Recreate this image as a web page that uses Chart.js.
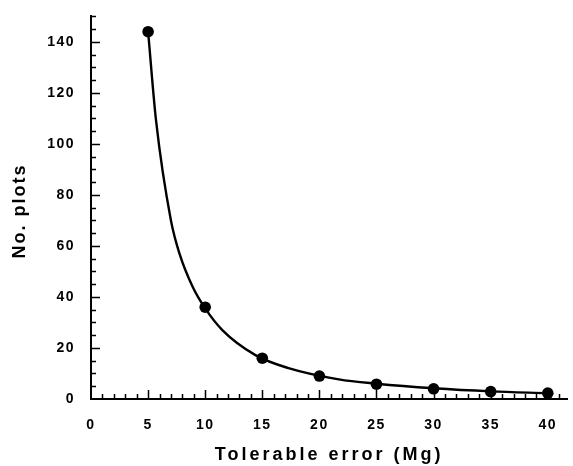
<!DOCTYPE html>
<html lang="en">
<head>
    <meta charset="UTF-8">
    <title>No. plots vs tolerable error</title>
    <script src="https://cdn.jsdelivr.net/npm/chart.js"></script>
    <style>
        html, body { margin: 0; padding: 0; background: #fff; }
        #wrap { width: 573px; height: 466px; }
    </style>
</head>
<body>
    <div id="wrap"><canvas id="plots-chart"></canvas></div>

    <script>
        // observed points
        const errors = [5, 10, 15, 20, 25, 30, 35, 40];
        const plots = [144, 36, 16, 9, 5.8, 4, 2.9, 2.3];

        // fitted curve
        const fitErrors = [5, 5.7, 7, 7.75, 8.9, 10, 11.5, 14.4, 17.3, 21.7, 25, 30, 35, 40];
        const fitPlots = [144, 109, 70, 57, 44, 35.5, 27, 17.2, 12.1, 7.7, 6, 4.2, 3, 2.3];

        const xTicks = [0, 5, 10, 15, 20, 25, 30, 35, 40];
        const yTicks = [0, 20, 40, 60, 80, 100, 120, 140];

        const xTitle = 'Tolerable error (Mg)';
        const yTitle = 'No. plots';

        const labelFont = { family: 'Liberation Sans, Arial, sans-serif', size: 14, weight: 'bold' };
        const titleFont = 'bold 18px "Liberation Sans", Arial, sans-serif';

        // inward tick marks + spaced-out titles
        const axisDecor = {
            id: 'axisDecor',
            beforeDraw(chart) {
                chart.ctx.letterSpacing = '1.5px';
            },
            beforeDatasetsDraw(chart) {
                const ctx = chart.ctx;
                const x = chart.scales.x, y = chart.scales.y;
                const area = chart.chartArea;
                ctx.save();
                ctx.strokeStyle = '#000';
                ctx.lineWidth = 1.5;
                ctx.beginPath();
                for (let v = 1; v <= x.max; v++) {
                    const px = Math.round(x.getPixelForValue(v)) + 0.5;
                    const len = v % 5 === 0 ? 9 : 5;
                    ctx.moveTo(px, area.bottom);
                    ctx.lineTo(px, area.bottom - len);
                }
                for (let v = 5; v <= y.max; v += 5) {
                    const py = Math.round(y.getPixelForValue(v)) + 0.5;
                    const len = v % 20 === 0 ? 9 : 5;
                    ctx.moveTo(area.left, py);
                    ctx.lineTo(area.left + len, py);
                }
                ctx.stroke();
                ctx.restore();
            },
            afterDraw(chart) {
                const ctx = chart.ctx;
                const area = chart.chartArea;
                ctx.save();
                ctx.fillStyle = '#000';
                ctx.font = titleFont;
                ctx.textAlign = 'center';
                ctx.textBaseline = 'middle';
                ctx.letterSpacing = '3px';
                ctx.fillText(xTitle, (area.left + area.right) / 2, 455);
                ctx.translate(20, 211);
                ctx.rotate(-Math.PI / 2);
                ctx.letterSpacing = '2px';
                ctx.fillText(yTitle, 0, 0);
                ctx.restore();
            }
        };

        new Chart(document.getElementById('plots-chart'), {
            type: 'scatter',
            data: {
                datasets: [
                    {
                        label: 'fit',
                        data: fitErrors.map((e, i) => ({ x: e, y: fitPlots[i] })),
                        showLine: true,
                        cubicInterpolationMode: 'monotone',
                        borderColor: '#000',
                        borderWidth: 2.4,
                        pointRadius: 0,
                        order: 2
                    },
                    {
                        label: 'plots',
                        data: errors.map((e, i) => ({ x: e, y: plots[i] })),
                        showLine: false,
                        pointRadius: 5.8,
                        pointBackgroundColor: '#000',
                        pointBorderColor: '#000',
                        pointBorderWidth: 0,
                        order: 1
                    }
                ]
            },
            options: {
                responsive: true,
                maintainAspectRatio: false,
                animation: false,
                layout: { padding: { top: 15, right: 2, left: 0, bottom: 0 } },
                plugins: {
                    legend: { display: false },
                    tooltip: { enabled: false }
                },
                scales: {
                    x: {
                        type: 'linear',
                        min: 0,
                        max: 41.7,
                        afterFit: s => { s.height = 67; },
                        afterBuildTicks: s => { s.ticks = xTicks.map(v => ({ value: v })); },
                        grid: { display: false },
                        border: { display: true, color: '#000', width: 2 },
                        ticks: { color: '#000', font: labelFont, padding: 10, maxRotation: 0 }
                    },
                    y: {
                        min: 0,
                        max: 150,
                        afterFit: s => { s.width = 91; },
                        afterBuildTicks: s => { s.ticks = yTicks.map(v => ({ value: v })); },
                        grid: { display: false },
                        border: { display: true, color: '#000', width: 2 },
                        ticks: { color: '#000', font: labelFont, padding: 8 }
                    }
                }
            },
            plugins: [axisDecor]
        });
    </script>
</body>
</html>
